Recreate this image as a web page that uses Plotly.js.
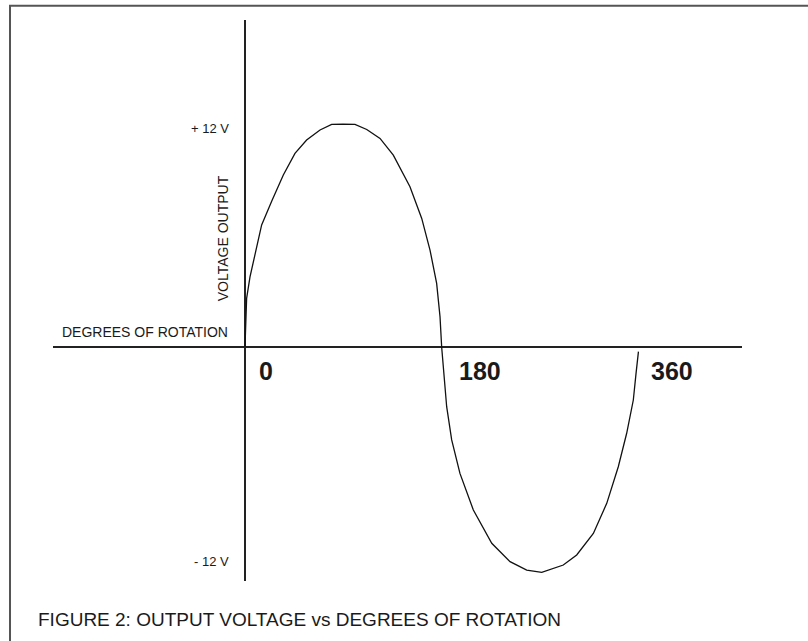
<!DOCTYPE html>
<html>
<head>
<meta charset="utf-8">
<script src="https://cdn.plot.ly/plotly-3.0.1.min.js"></script>
<style>
  html, body { margin: 0; padding: 0; background: #fff; }
  #chart { width: 808px; height: 641px; }
</style>
</head>
<body>
<div id="chart"></div>
<script>
// Curve: degrees of rotation vs output voltage (V)
const degrees = [0, 1.5, 4.6, 9.2, 15.3, 24.5, 35.2, 45.9, 56.6, 68.9, 79.6, 90, 101, 111.8, 124, 136.2, 151.5, 162.3, 169.9, 176, 179.1, 180.6,
                 182.1, 185.2, 189.8, 197.4, 209.7, 226.6, 243.4, 258.7, 272.5, 292.3, 304.6, 319.9, 332.2, 342.8, 350.5, 356.6, 359.1, 361.3];
const voltage = [0, 2.62, 3.78, 5.04, 6.57, 7.85, 9.26, 10.42, 11.14, 11.68, 11.98, 12.0, 11.98, 11.71, 11.23, 10.33, 8.63, 6.92, 5.22, 3.43, 1.63, 0,
                 -1.06, -3.21, -5.0, -6.8, -8.77, -10.56, -11.55, -12.0, -12.12, -11.73, -11.19, -10.03, -8.41, -6.44, -4.64, -2.85, -1.42, -0.25];

const xTickValues = [0, 180, 360];
const xTickLabels = ['0', '180', '360'];
const yLevelValues = [12, -12];
const yLevelLabels = ['+ 12 V', '- 12 V'];
const xAxisTitle = 'DEGREES OF ROTATION';
const yAxisTitle = 'VOLTAGE OUTPUT';
const caption = 'FIGURE 2: OUTPUT VOLTAGE vs DEGREES OF ROTATION';

const FONT = 'Liberation Sans, Arial, sans-serif';
const TXT = '#1a1a1a';

const annotations = [];
xTickValues.forEach((v, i) => {
  annotations.push({
    x: v, y: 0, xref: 'x', yref: 'y', text: '<b>' + xTickLabels[i] + '</b>', showarrow: false,
    xanchor: 'left', yanchor: 'middle', xshift: i === 1 ? 16 : 12, yshift: -24,
    font: { family: FONT, size: 25, color: TXT }
  });
});
yLevelValues.forEach((v, i) => {
  annotations.push({
    x: 0, y: v, xref: 'x', yref: 'y', text: yLevelLabels[i], showarrow: false,
    xanchor: 'right', yanchor: 'middle', xshift: -14, yshift: i === 0 ? -4 : 9,
    font: { family: FONT, size: 13, color: TXT }
  });
});
annotations.push({
  x: 0, y: 0, xref: 'x', yref: 'y', text: xAxisTitle, showarrow: false,
  xanchor: 'right', yanchor: 'middle', xshift: -15, yshift: 15,
  font: { family: FONT, size: 14, color: TXT }
});
annotations.push({
  x: 0, y: 0.611, xref: 'x', yref: 'paper', text: yAxisTitle, showarrow: false,
  textangle: -90, xanchor: 'center', yanchor: 'middle', xshift: -22,
  font: { family: FONT, size: 14, color: TXT }
});
annotations.push({
  x: -0.0247, y: -0.0695, xref: 'paper', yref: 'paper', text: caption, showarrow: false,
  xanchor: 'left', yanchor: 'middle',
  font: { family: FONT, size: 19, color: TXT }
});

const trace = {
  x: degrees, y: voltage, type: 'scatter', mode: 'lines',
  line: { color: '#111', width: 1.3, shape: 'linear' },
  hoverinfo: 'skip', showlegend: false
};

const layout = {
  width: 808, height: 641,
  margin: { l: 53, r: 66, t: 20, b: 60, pad: 0 },
  paper_bgcolor: '#fff', plot_bgcolor: '#fff',
  showlegend: false,
  xaxis: {
    range: [-176.3, 456.4], showgrid: false, showticklabels: false, ticks: '',
    showline: false, zeroline: true, zerolinecolor: '#222', zerolinewidth: 1.3, fixedrange: true
  },
  yaxis: {
    range: [-12.59, 17.6], showgrid: false, showticklabels: false, ticks: '',
    showline: false, zeroline: true, zerolinecolor: '#222', zerolinewidth: 1.3, fixedrange: true
  },
  annotations: annotations,
  shapes: [{
    type: 'path', xref: 'paper', yref: 'paper',
    path: 'M 1.2 1.0255 L -0.0624 1.0255 L -0.0624 -0.2',
    line: { color: '#555', width: 2 }
  }]
};

Plotly.newPlot('chart', [trace], layout, { staticPlot: true, displayModeBar: false });
</script>
</body>
</html>
